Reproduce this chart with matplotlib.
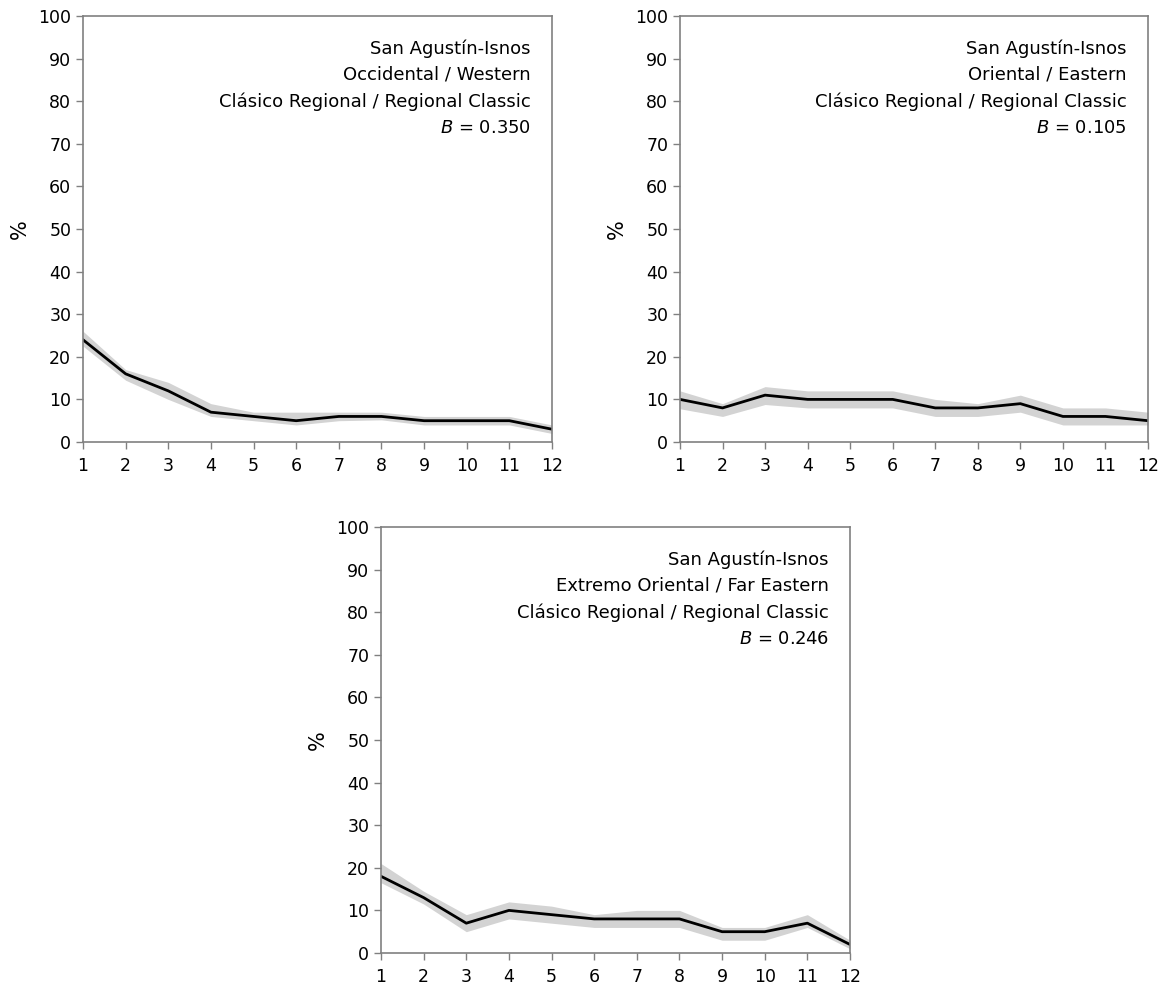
import numpy as np
import matplotlib
matplotlib.use('Agg')
import matplotlib.pyplot as plt

plt.rcParams['font.family'] = ['DejaVu Sans']
plt.rcParams['mathtext.fontset'] = 'dejavusans'

positions = list(range(1, 13))

# Occidental / Western
west_mean = [24, 16, 12, 7, 6, 5, 6, 6, 5, 5, 5, 3]
west_upper = [26, 17, 14, 9, 7, 7, 7, 7, 6, 6, 6, 4]
west_lower = [22.5, 14.5, 10, 6, 5, 4, 5, 5.2, 4, 4, 4, 2]

# Oriental / Eastern
east_mean = [10, 8, 11, 10, 10, 10, 8, 8, 9, 6, 6, 5]
east_upper = [12, 9, 13, 12, 12, 12, 10, 9, 11, 8, 8, 7]
east_lower = [7.8, 6, 8.8, 8, 8, 8, 6, 6, 7, 4, 4, 4]

# Extremo Oriental / Far Eastern
far_mean = [18, 13, 7, 10, 9, 8, 8, 8, 5, 5, 7, 2]
far_upper = [21, 14.5, 9, 12, 11, 9, 10, 10, 6, 6, 9, 3]
far_lower = [16.5, 11.5, 5, 8, 7, 6, 6, 6, 3, 3, 6, 1]

labels = [
    "San Agustín-Isnos\nOccidental / Western\nClásico Regional / Regional Classic\n$\\it{B}$ = 0.350",
    "San Agustín-Isnos\nOriental / Eastern\nClásico Regional / Regional Classic\n$\\it{B}$ = 0.105",
    "San Agustín-Isnos\nExtremo Oriental / Far Eastern\nClásico Regional / Regional Classic\n$\\it{B}$ = 0.246",
]

W, H = 1162, 989
fig = plt.figure(figsize=(W / 100, H / 100), dpi=100)

boxes = [(83, 16, 552, 442), (680, 16, 1148, 442), (381, 527, 850, 953)]
series = [(west_mean, west_upper, west_lower),
          (east_mean, east_upper, east_lower),
          (far_mean, far_upper, far_lower)]

for (x0, y0, x1, y1), (mean, up, lo), lab in zip(boxes, series, labels):
    ax = fig.add_axes([x0 / W, 1 - y1 / H, (x1 - x0) / W, (y1 - y0) / H])
    ax.fill_between(positions, lo, up, color='#d3d3d3', lw=0)
    ax.plot(positions, mean, color='black', lw=2.0)
    ax.set_xlim(1, 12)
    ax.set_ylim(0, 100)
    ax.set_xticks(positions)
    ax.set_yticks(range(0, 101, 10))
    for s in ax.spines.values():
        s.set_color('#808080')
        s.set_linewidth(1.2)
    ax.tick_params(colors='#808080', labelcolor='black', labelsize=12.5,
                   length=5, width=1.0, direction='out')
    ax.tick_params(axis='x', pad=6)
    ax.set_ylabel('%', fontsize=15, labelpad=6)
    ax.text(0.955, 0.945, lab, transform=ax.transAxes, ha='right', va='top',
            fontsize=13, linespacing=1.57, multialignment='right')

fig.savefig('out.png', dpi=100)
